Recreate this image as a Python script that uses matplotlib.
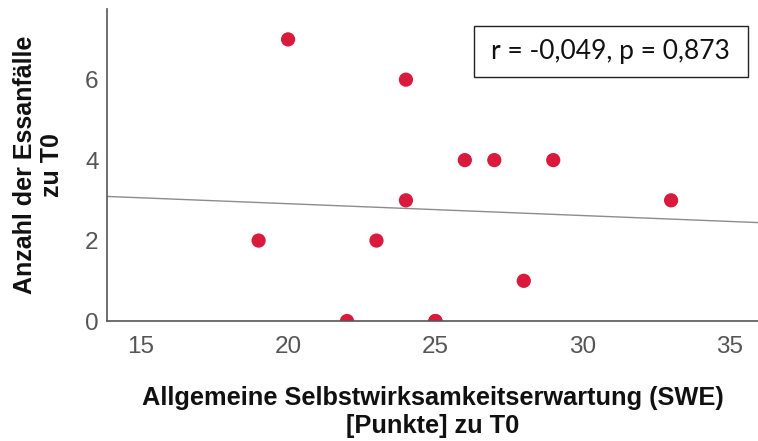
import numpy as np
import matplotlib
matplotlib.use('Agg')
import matplotlib.pyplot as plt
from matplotlib.patches import Rectangle

# Data (one point at 25/0 is duplicated)
swe = [20, 19, 22, 23, 24, 24, 25, 25, 26, 27, 28, 29, 33]
essanfaelle = [7, 2, 0, 2, 6, 3, 0, 0, 4, 4, 1, 4, 3]
x_ticks = [15, 20, 25, 30, 35]
y_ticks = [0, 2, 4, 6]
stat_text = 'r = -0,049, p = 0,873'

plt.rcParams['font.family'] = ['Liberation Sans', 'DejaVu Sans']

fig = plt.figure(figsize=(7.58, 4.41), dpi=100)
ax = fig.add_axes([0.141, 0.272, 0.859, 0.708])

ax.scatter(swe, essanfaelle, s=105, color='#d91a3c', edgecolors='none', zorder=3)

# linear fit line
xlim = (13.85, 35.95)
slope, intercept = np.polyfit(swe, essanfaelle, 1)
xs = np.array(xlim)
ax.plot(xs, slope * xs + intercept, color='#8c8c8c', lw=1.0, zorder=2)

ax.set_xlim(xlim)
ax.set_ylim(0, 7.76)
ax.set_xticks(x_ticks)
ax.set_yticks(y_ticks)
ax.tick_params(length=0, labelsize=17.5, labelcolor='#555555')
ax.tick_params(axis='x', pad=11)
ax.tick_params(axis='y', pad=6)

for side in ['top', 'right']:
    ax.spines[side].set_visible(False)
for side in ['left', 'bottom']:
    ax.spines[side].set_color('#555555')
    ax.spines[side].set_linewidth(1.2)
    ax.spines[side].set_zorder(4)

ax.set_xlabel('Allgemeine Selbstwirksamkeitserwartung (SWE)\n[Punkte] zu T0',
              fontsize=18.3, fontweight='bold', color='#111111',
              labelpad=20, linespacing=1.2)
ax.set_ylabel('Anzahl der Essanfälle\nzu T0', fontsize=18,
              fontweight='bold', color='#111111', labelpad=15, linespacing=1.15)

# stats box
ax.add_patch(Rectangle((0.564, 0.782), 0.421, 0.164, transform=ax.transAxes,
                       fc='white', ec='#222222', lw=1.0, zorder=5, clip_on=False))
ax.text(0.773, 0.862, stat_text, transform=ax.transAxes, ha='center', va='center',
        fontsize=19, family=['Lato', 'DejaVu Sans'], color='#111111', zorder=6)

fig.savefig('out.png', dpi=100)
